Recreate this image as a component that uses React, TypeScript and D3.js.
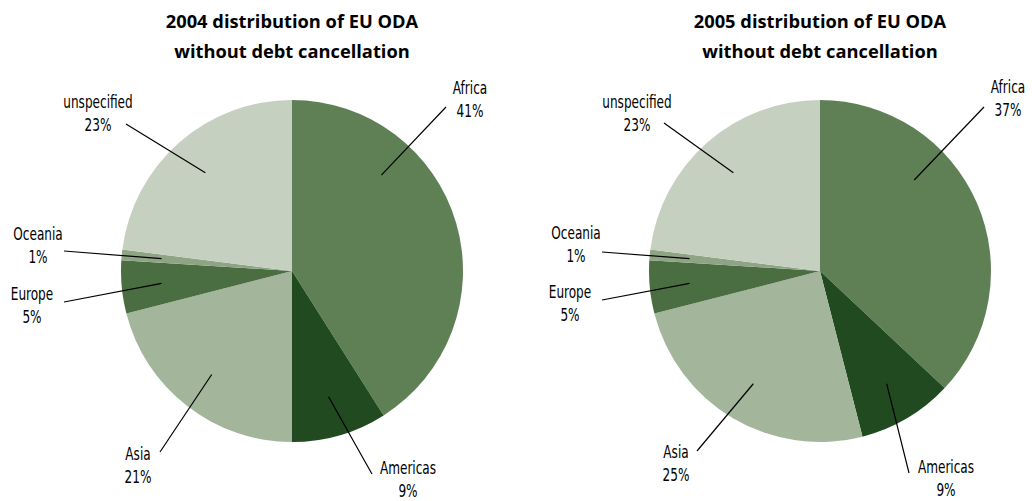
import React from 'react';
import * as d3 from 'd3';

// regions in slice order, clockwise from 12 o'clock
const regions = ['Africa', 'Americas', 'Asia', 'Europe', 'Oceania', 'unspecified'];
const share2004 = [41, 9, 21, 5, 1, 23];
const share2005 = [37, 9, 25, 5, 1, 23];
const titles2004 = ['2004 distribution of EU ODA', 'without debt cancellation'];
const titles2005 = ['2005 distribution of EU ODA', 'without debt cancellation'];

const colors = ['#5f7f55', '#214a20', '#a3b59b', '#4a6d42', '#8ea485', '#c5d0c0'];

// label layout (text centre x, first baseline y) and outer leader end points
const labelPos2004 = [[470, 94], [408, 474], [138, 460], [32, 300], [38, 240], [98, 108]];
const leaderEnd2004 = [[446, 107], [372, 474], [160, 452], [64, 302], [64, 251], [126, 124]];
const labelPos2005 = [[1008, 93], [946, 473], [676, 458], [570, 298], [576, 239], [637, 108]];
const leaderEnd2005 = [[984, 107], [909, 473], [697, 451], [602, 300], [602, 252], [664, 123]];
// leader angle overrides (degrees clockwise from top), null = slice middle
const leaderAngle2004 = [43, null, null, null, null, null];
const leaderAngle2005 = [46, null, null, null, null, null];

const W = 1032;
const H = 501;
const R = 171;
const labelFont = '"DejaVu Sans Condensed", "Liberation Sans Narrow", sans-serif';
const titleFont = '"Open Sans", "Noto Sans", sans-serif';
const squeeze = 0.8;

type PieProps = {
  cx: number;
  values: number[];
  titles: string[];
  labelPos: number[][];
  leaderEnd: number[][];
  leaderAngle: (number | null)[];
};

const Label = ({ x, y, text }: { x: number; y: number; text: string }) => (
  <text transform={`translate(${x},${y}) scale(${squeeze},1)`} textAnchor="middle"
    style={{ fontFamily: labelFont, fontSize: '16.8px', fill: '#000' }}>
    {text}
  </text>
);

const Pie = ({ cx, values, titles, labelPos, leaderEnd, leaderAngle }: PieProps) => {
  const cy = 271;
  const pie = d3.pie<number>().sort(null).value(d => d);
  const arcs = pie(values);
  const arc = d3.arc<d3.PieArcDatum<number>>().innerRadius(0).outerRadius(R);
  const leaderR = 131;

  return (
    <g>
      {titles.map((t, i) => (
        <text key={t} x={cx} y={28 + i * 30} textAnchor="middle"
          style={{ fontFamily: titleFont, fontWeight: 700, fontSize: '18.3px', fill: '#000' }}>
          {t}
        </text>
      ))}
      <g transform={`translate(${cx},${cy})`}>
        {arcs.map((a, i) => (
          <path key={regions[i]} d={arc(a) || ''} fill={colors[i]} />
        ))}
      </g>
      {arcs.map((a, i) => {
        const deg = leaderAngle[i] ?? ((a.startAngle + a.endAngle) / 2) * 180 / Math.PI;
        const rad = deg * Math.PI / 180;
        const ix = cx + leaderR * Math.sin(rad);
        const iy = cy - leaderR * Math.cos(rad);
        const [lx, ly] = leaderEnd[i];
        const [tx, ty] = labelPos[i];
        return (
          <g key={regions[i]}>
            <line x1={ix} y1={iy} x2={lx} y2={ly} stroke="#000" strokeWidth={1.2} />
            <Label x={tx} y={ty} text={regions[i]} />
            <Label x={tx} y={ty + 23} text={`${values[i]}%`} />
          </g>
        );
      })}
    </g>
  );
};

export default function App() {
  return (
    <svg width={W} height={H} viewBox={`0 0 ${W} ${H}`}
      style={{ position: 'absolute', left: 0, top: 0, background: '#fff', display: 'block' }}>
      <Pie cx={292} values={share2004} titles={titles2004}
        labelPos={labelPos2004} leaderEnd={leaderEnd2004} leaderAngle={leaderAngle2004} />
      <Pie cx={820} values={share2005} titles={titles2005}
        labelPos={labelPos2005} leaderEnd={leaderEnd2005} leaderAngle={leaderAngle2005} />
    </svg>
  );
}
